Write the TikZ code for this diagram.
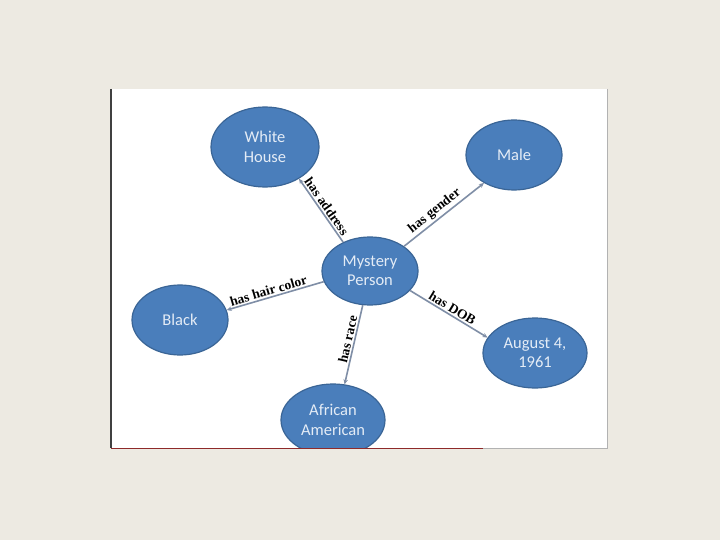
\documentclass[tikz,border=0pt]{standalone}
\usepackage{fontspec}
\setmainfont{Carlito}
\newfontfamily\relfont{Liberation Serif}
\usetikzlibrary{shapes.geometric,arrows.meta}
\definecolor{pagebg}{HTML}{EDEAE2}
\definecolor{nodefill}{HTML}{4A7EBB}
\definecolor{nodeline}{HTML}{3A6596}
\definecolor{nodetext}{HTML}{E4ECF6}
\definecolor{linkcol}{HTML}{7F8EA6}
\definecolor{framered}{HTML}{8E2A2A}

\begin{document}
\begin{tikzpicture}[x=1pt, y=-1pt,
  concept/.style={ellipse, draw=nodeline, line width=1.2pt, fill=nodefill,
                  text=nodetext, font=\fontsize{16.5}{19.5}\selectfont,
                  align=center, inner sep=0pt},
  relation/.style={-{Stealth[length=5pt,width=4.5pt]}, draw=linkcol, line width=1.6pt},
  rel_label/.style={sloped, above, inner sep=1.5pt, text=black,
                    font=\relfont\bfseries\fontsize{13.5}{13.5}\selectfont}
]
  \fill[pagebg] (0,0) rectangle (720,540);
  \fill[white] (111,89) rectangle (607,448);

  \begin{scope}
    \clip (111,89) rectangle (607,448);
    \node[concept, minimum width=96pt, minimum height=68pt]  (mp)  at (370,271) {Mystery\\Person};
    \node[concept, minimum width=108pt, minimum height=80pt] (wh)  at (265,147) {White\\House};
    \node[concept, minimum width=96pt, minimum height=70pt]  (ml)  at (514,155) {Male};
    \node[concept, minimum width=96pt, minimum height=70pt]  (bk)  at (180,320) {Black};
    \node[concept, minimum width=104pt, minimum height=72pt] (aa)  at (333,420) {African\\American};
    \node[concept, minimum width=104pt, minimum height=70pt] (dob) at (535,353) {August 4,\\1961};

    \draw[relation] (mp.133) -- node[rel_label, pos=0.5] {has address} (wh.-43);
    \draw[relation] (mp.36) -- node[rel_label, pos=0.45] {has gender} (ml.223);
    \draw[relation] (mp.193) -- node[rel_label, pos=0.55] {has hair color} (bk.12);
    \draw[relation] (mp.258) -- node[rel_label, pos=0.45] {has race} (aa.72);
    \draw[relation] (mp.-26) -- node[rel_label, pos=0.5] {has DOB} (dob.162);
  \end{scope}

  \draw[gray!60, line width=1pt] (607,89) -- (607,448) -- (483,448);
  \draw[framered, line width=1pt] (111,448) -- (483,448);
  \draw[black!75, line width=1.5pt] (111,89) -- (111,448);
\end{tikzpicture}
\end{document}
